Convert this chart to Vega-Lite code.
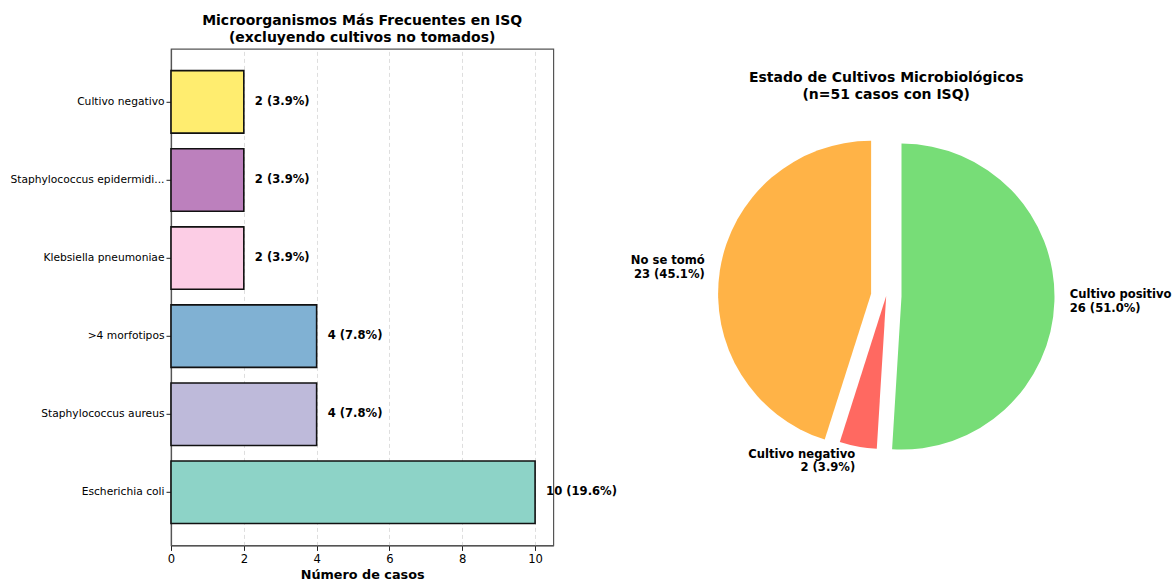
{
  "$schema": "https://vega.github.io/schema/vega-lite/v6.json",
  "padding": {"left": 9, "top": 12.8, "right": 0, "bottom": 0},
  "background": "white",
  "bounds": "flush",
  "spacing": 52.2,
  "config": {"font": "DejaVu Sans", "view": {"stroke": null}},
  "datasets": {
    "micro": [
      {"org": "Escherichia coli", "n": 10, "label": "10 (19.6%)"},
      {"org": "Staphylococcus aureus", "n": 4, "label": "4 (7.8%)"},
      {"org": ">4 morfotipos", "n": 4, "label": "4 (7.8%)"},
      {"org": "Klebsiella pneumoniae", "n": 2, "label": "2 (3.9%)"},
      {"org": "Staphylococcus epidermidi...", "n": 2, "label": "2 (3.9%)"},
      {"org": "Cultivo negativo", "n": 2, "label": "2 (3.9%)"}
    ],
    "cultivos": [
      {"cat": "Cultivo positivo", "n": 26, "label": "Cultivo positivo\n26 (51.0%)"},
      {"cat": "Cultivo negativo", "n": 2, "label": "Cultivo negativo\n2 (3.9%)"},
      {"cat": "No se tomó", "n": 23, "label": "No se tomó\n23 (45.1%)"}
    ]
  },
  "hconcat": [
    {
      "width": 382.3,
      "height": 496.6,
      "view": {"stroke": "#555", "strokeWidth": 1.2},
      "title": {
        "text": ["Microorganismos Más Frecuentes en ISQ", "(excluyendo cultivos no tomados)"],
        "fontSize": 14,
        "fontWeight": "bold",
        "font": "DejaVu Sans",
        "color": "black",
        "anchor": "middle",
        "offset": 4,
        "lineHeight": 16.5
      },
      "data": {"name": "micro"},
      "encoding": {
        "y": {
          "field": "org",
          "type": "nominal",
          "sort": ["Cultivo negativo", "Staphylococcus epidermidi...", "Klebsiella pneumoniae", ">4 morfotipos", "Staphylococcus aureus", "Escherichia coli"],
          "scale": {"paddingInner": 0.2, "paddingOuter": 0.28},
          "axis": {"title": null, "labelFontSize": 10.7, "labelColor": "black", "tickColor": "#222", "tickSize": 5, "labelPadding": 2, "domain": true, "domainColor": "#555", "domainWidth": 1.2, "labelLimit": 300, "labelFont": "DejaVu Sans"}
        },
        "x": {
          "field": "n",
          "type": "quantitative",
          "scale": {"domain": [0, 10.5], "nice": false},
          "axis": {"values": [0, 2, 4, 6, 8, 10], "title": "Número de casos", "titleFontSize": 12.8, "titleFontWeight": "bold", "titleColor": "black", "titleFont": "DejaVu Sans", "labelFontSize": 11.6, "labelColor": "black", "labelFont": "DejaVu Sans", "tickColor": "#222", "tickSize": 5, "labelPadding": 3, "titlePadding": 4, "domain": true, "domainColor": "#555", "domainWidth": 1.2, "grid": true, "gridDash": [4, 3], "gridColor": "#dedede", "labelFlush": false}
        }
      },
      "layer": [
        {
          "mark": {"type": "bar", "stroke": "#111", "strokeWidth": 1.6},
          "encoding": {
            "color": {
              "field": "org",
              "type": "nominal",
              "scale": {
                "domain": ["Escherichia coli", "Staphylococcus aureus", ">4 morfotipos", "Klebsiella pneumoniae", "Staphylococcus epidermidi...", "Cultivo negativo"],
                "range": ["#8dd3c7", "#bebada", "#80b1d3", "#fccde5", "#bc80bd", "#ffed6f"]
              },
              "legend": null
            }
          }
        },
        {
          "mark": {"type": "text", "align": "left", "baseline": "middle", "dx": 11, "fontSize": 11.6, "fontWeight": "bold", "color": "black", "font": "DejaVu Sans"},
          "encoding": {"text": {"field": "label", "type": "nominal"}}
        }
      ]
    },
    {
      "width": 560,
      "height": 494.6,
      "view": {"stroke": null},
      "title": {
        "text": ["Estado de Cultivos Microbiológicos", "(n=51 casos con ISQ)"],
        "fontSize": 14,
        "fontWeight": "bold",
        "font": "DejaVu Sans",
        "color": "black",
        "anchor": "middle",
        "offset": -53,
        "lineHeight": 16.5
      },
      "data": {"name": "cultivos"},
      "transform": [{"window": [{"op": "row_number", "as": "idx"}]}],
      "encoding": {
        "theta": {"field": "n", "type": "quantitative", "stack": true},
        "order": {"field": "idx", "type": "quantitative"}
      },
      "layer": [
        {
          "mark": {"type": "arc", "radius": 153, "xOffset": 15.3, "yOffset": 0.5},
          "encoding": {"fill": {"condition": {"test": "datum.cat === 'Cultivo positivo'", "value": "#77dd77"}, "value": "transparent"}}
        },
        {
          "mark": {"type": "arc", "radius": 153},
          "encoding": {"fill": {"condition": {"test": "datum.cat === 'Cultivo negativo'", "value": "#ff6961"}, "value": "transparent"}}
        },
        {
          "mark": {"type": "arc", "radius": 153, "xOffset": -15.1, "yOffset": -2.3},
          "encoding": {"fill": {"condition": {"test": "datum.cat === 'No se tomó'", "value": "#ffb347"}, "value": "transparent"}}
        },
        {
          "mark": {"type": "text", "radius": 168.3, "xOffset": 15.3, "yOffset": -6.25, "align": "left", "baseline": "middle", "fontSize": 11.6, "fontWeight": "bold", "lineBreak": "\n", "lineHeight": 13.5, "color": "black", "font": "DejaVu Sans"},
          "encoding": {"text": {"condition": {"test": "datum.cat === 'Cultivo positivo'", "field": "label", "type": "nominal"}, "value": ""}}
        },
        {
          "mark": {"type": "text", "radius": 168.3, "yOffset": -6.75, "align": "right", "baseline": "middle", "fontSize": 11.6, "fontWeight": "bold", "lineBreak": "\n", "lineHeight": 13.5, "color": "black", "font": "DejaVu Sans"},
          "encoding": {"text": {"condition": {"test": "datum.cat === 'Cultivo negativo'", "field": "label", "type": "nominal"}, "value": ""}}
        },
        {
          "mark": {"type": "text", "radius": 168.3, "xOffset": -15.1, "yOffset": -9.05, "align": "right", "baseline": "middle", "fontSize": 11.6, "fontWeight": "bold", "lineBreak": "\n", "lineHeight": 13.5, "color": "black", "font": "DejaVu Sans"},
          "encoding": {"text": {"condition": {"test": "datum.cat === 'No se tomó'", "field": "label", "type": "nominal"}, "value": ""}}
        }
      ]
    }
  ]
}
